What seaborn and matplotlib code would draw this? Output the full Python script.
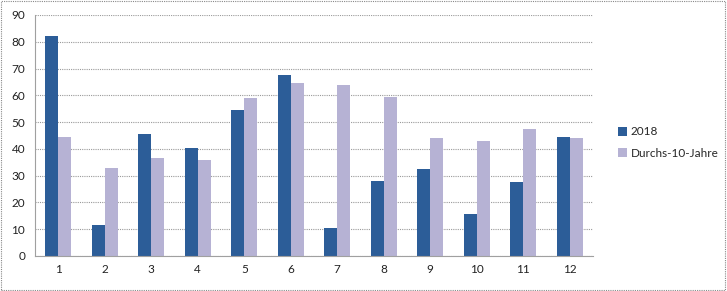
import numpy as np
import pandas as pd
import seaborn as sns
import matplotlib.pyplot as plt
from matplotlib.patches import Rectangle

months = ["1", "2", "3", "4", "5", "6", "7", "8", "9", "10", "11", "12"]
vals_2018 = [82, 11.5, 45.5, 40.5, 54.5, 67.5, 10.5, 28, 32.5, 15.5, 27.5, 44.5]
vals_avg = [44.5, 33, 36.5, 36, 59, 64.5, 64, 59.5, 44, 43, 47.5, 44]
series = ["2018", "Durchs-10-Jahre"]
colors = ["#2C5D98", "#B6B2D4"]

df = pd.DataFrame({
    "Monat": months * 2,
    "Wert": vals_2018 + vals_avg,
    "Serie": [series[0]] * 12 + [series[1]] * 12,
})

sns.set_style("white")
plt.rcParams["font.family"] = ["Lato", "DejaVu Sans"]

fig = plt.figure(figsize=(7.27, 2.91), dpi=100)
ax = fig.add_axes([35 / 727, 1 - 256 / 291, (593 - 35) / 727, (256 - 15) / 291])

sns.barplot(data=df, x="Monat", y="Wert", hue="Serie", palette=colors,
            width=0.56, ax=ax, legend=True, saturation=1, edgecolor="none")

ax.set_ylim(0, 90)
ax.set_xlim(-0.5, 11.5)
ax.set_yticks(np.arange(0, 91, 10))
ax.yaxis.grid(True, color="#9a9a9a", linestyle=(0, (1, 1)), linewidth=0.8)
ax.set_axisbelow(True)
ax.set_xlabel("")
ax.set_ylabel("")
for s in ["top", "right"]:
    ax.spines[s].set_visible(False)
ax.spines["left"].set_color("#a0a0a0")
ax.spines["bottom"].set_color("#a0a0a0")
ax.tick_params(axis="both", labelsize=8.5, colors="#222222", length=0, pad=6)
ax.tick_params(axis="y", length=4, color="#a0a0a0", pad=3)
ax.set_xticks(np.arange(-0.5, 12, 1), minor=True)
ax.tick_params(axis="x", which="minor", length=4, color="#a0a0a0")

leg = ax.legend(loc="center left", bbox_to_anchor=(1.025, 0.47), frameon=False,
                fontsize=8.5, handlelength=0.8, handleheight=0.8, handletextpad=0.3,
                labelspacing=0.9)

fig.patches.append(Rectangle((0.002, 0.004), 0.995, 0.992, transform=fig.transFigure,
                             fill=False, edgecolor="#888888", linestyle=(0, (1, 1)),
                             linewidth=0.8))

fig.savefig("out.png", dpi=100)
